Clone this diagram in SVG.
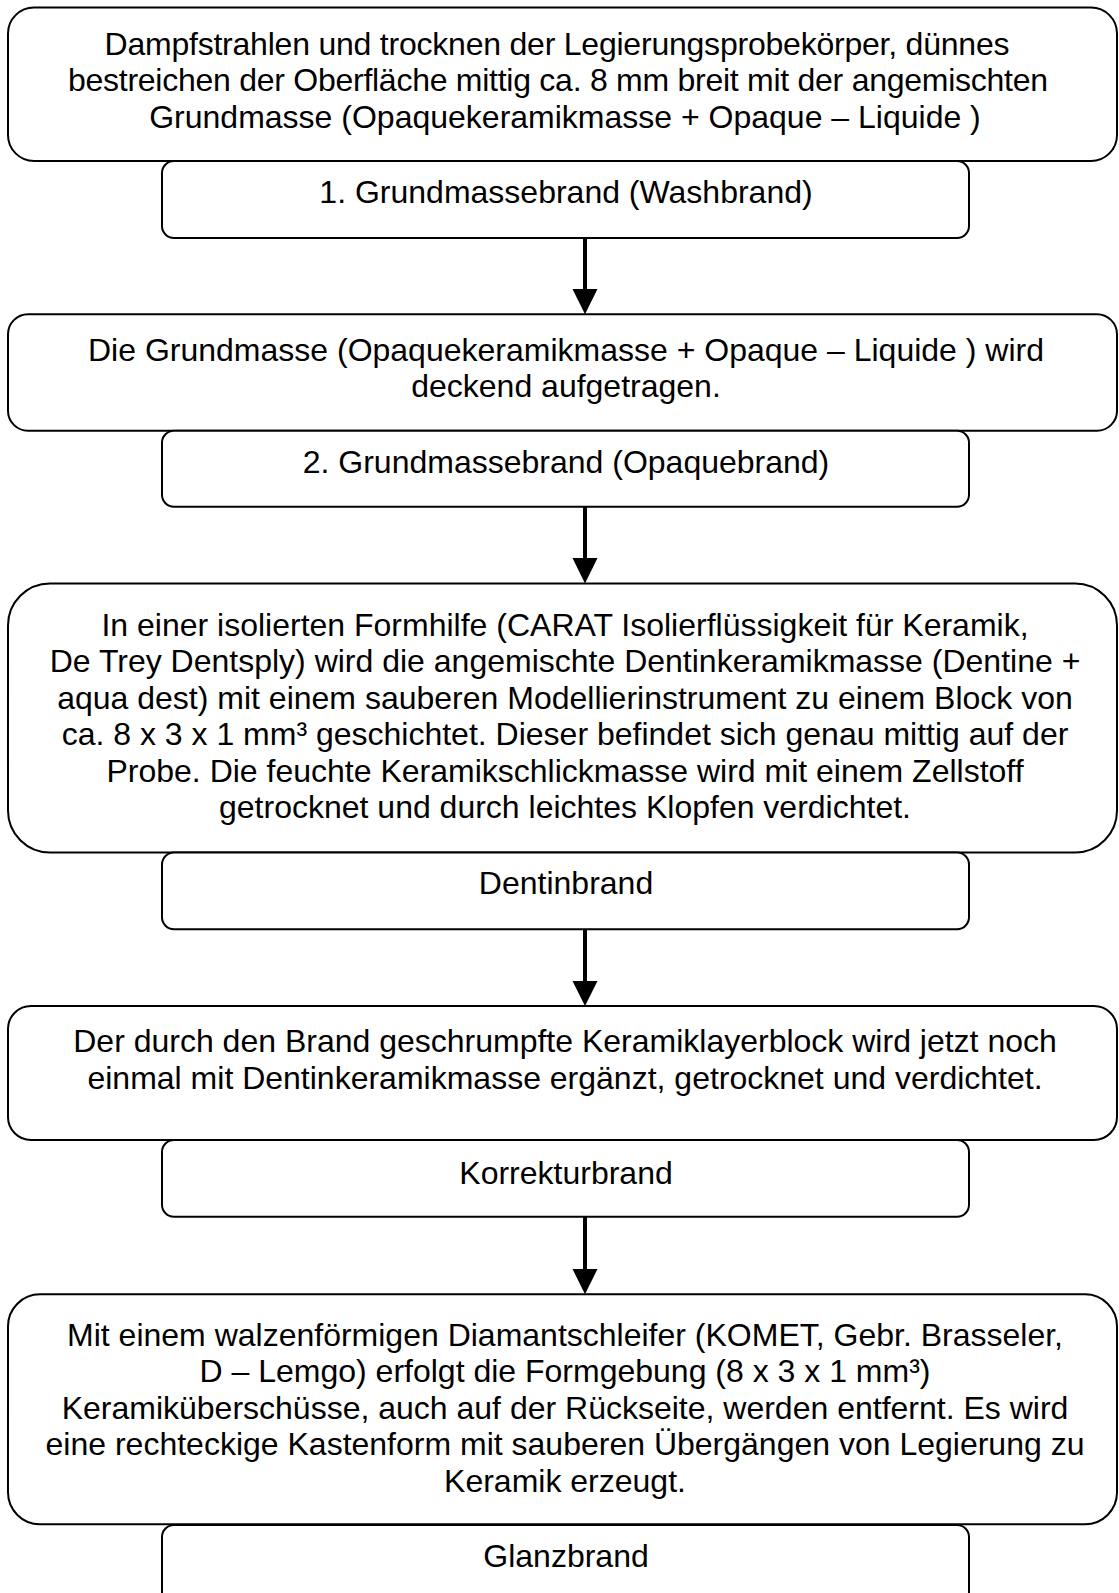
<svg xmlns="http://www.w3.org/2000/svg" width="1119" height="1593" viewBox="0 0 1119 1593">
<defs>
<style>
.box{fill:#fff;stroke:#000;stroke-width:2}
.t{font-family:"Liberation Sans",Arial,sans-serif;font-size:32px;fill:#000;text-anchor:middle}
.ln{stroke:#000;stroke-width:4}
.ah{fill:#000}
</style>
</defs>
<rect width="1119" height="1593" fill="#fff"/>
<g id="n1">
<rect class="box" x="8" y="7.5" width="1109" height="153.5" rx="26" ry="26"/>
<text class="t" x="557" y="54.5" textLength="905" lengthAdjust="spacing">Dampfstrahlen und trocknen der Legierungsprobekörper, dünnes</text>
<text class="t" x="558" y="91" textLength="980" lengthAdjust="spacing">bestreichen der Oberfläche mittig ca. 8 mm breit mit der angemischten</text>
<text class="t" x="565" y="127.5">Grundmasse (Opaquekeramikmasse + Opaque – Liquide )</text>
</g>
<g id="n2">
<rect class="box" x="162" y="161" width="807" height="77" rx="12" ry="12"/>
<text class="t" x="566" y="203">1. Grundmassebrand (Washbrand)</text>
</g>
<g id="n3">
<rect class="box" x="8" y="314.3" width="1109" height="116.4" rx="20" ry="20"/>
<text class="t" x="566" y="360.5">Die Grundmasse (Opaquekeramikmasse + Opaque – Liquide ) wird</text>
<text class="t" x="566" y="397">deckend aufgetragen.</text>
</g>
<g id="n4">
<rect class="box" x="162" y="430.7" width="807" height="76" rx="12" ry="12"/>
<text class="t" x="566" y="473">2. Grundmassebrand (Opaquebrand)</text>
</g>
<g id="n5">
<rect class="box" x="8" y="583.5" width="1109" height="269" rx="42" ry="42"/>
<text class="t" x="565" y="635.5">In einer isolierten Formhilfe (CARAT Isolierflüssigkeit für Keramik,</text>
<text class="t" x="565" y="672">De Trey Dentsply) wird die angemischte Dentinkeramikmasse (Dentine +</text>
<text class="t" x="565" y="708.5">aqua dest) mit einem sauberen Modellierinstrument zu einem Block von</text>
<text class="t" x="565" y="745">ca. 8 x 3 x 1 mm³ geschichtet. Dieser befindet sich genau mittig auf der</text>
<text class="t" x="565" y="781.7">Probe. Die feuchte Keramikschlickmasse wird mit einem Zellstoff</text>
<text class="t" x="565" y="818.3">getrocknet und durch leichtes Klopfen verdichtet.</text>
</g>
<g id="n6">
<rect class="box" x="162" y="852.5" width="807" height="76.8" rx="12" ry="12"/>
<text class="t" x="566" y="893.5">Dentinbrand</text>
</g>
<g id="n7">
<rect class="box" x="8" y="1006" width="1109" height="134" rx="23" ry="23"/>
<text class="t" x="565" y="1052">Der durch den Brand geschrumpfte Keramiklayerblock wird jetzt noch</text>
<text class="t" x="565" y="1088.5">einmal mit Dentinkeramikmasse ergänzt, getrocknet und verdichtet.</text>
</g>
<g id="n8">
<rect class="box" x="162" y="1140" width="807" height="76.7" rx="12" ry="12"/>
<text class="t" x="566" y="1183.5">Korrekturbrand</text>
</g>
<g id="n9">
<rect class="box" x="8" y="1294.3" width="1109" height="230" rx="32" ry="32"/>
<text class="t" x="565" y="1345.5">Mit einem walzenförmigen Diamantschleifer (KOMET, Gebr. Brasseler,</text>
<text class="t" x="565" y="1382">D – Lemgo) erfolgt die Formgebung (8 x 3 x 1 mm³)</text>
<text class="t" x="565" y="1418.5">Keramiküberschüsse, auch auf der Rückseite, werden entfernt. Es wird</text>
<text class="t" x="565" y="1455">eine rechteckige Kastenform mit sauberen Übergängen von Legierung zu</text>
<text class="t" x="565" y="1491.7">Keramik erzeugt.</text>
</g>
<g id="n10">
<rect class="box" x="162" y="1525" width="807" height="120" rx="12" ry="12"/>
<text class="t" x="566" y="1567">Glanzbrand</text>
</g>
<g id="connectors">
<line class="ln" x1="585" y1="238" x2="585" y2="290"/>
<polygon class="ah" points="572.5,289 597.5,289 585,314.3"/>
<line class="ln" x1="585" y1="506.7" x2="585" y2="559"/>
<polygon class="ah" points="572.5,558 597.5,558 585,583.5"/>
<line class="ln" x1="585" y1="929.3" x2="585" y2="982"/>
<polygon class="ah" points="572.5,981 597.5,981 585,1006"/>
<line class="ln" x1="585" y1="1216.7" x2="585" y2="1270"/>
<polygon class="ah" points="572.5,1269 597.5,1269 585,1294.3"/>
</g>
</svg>
